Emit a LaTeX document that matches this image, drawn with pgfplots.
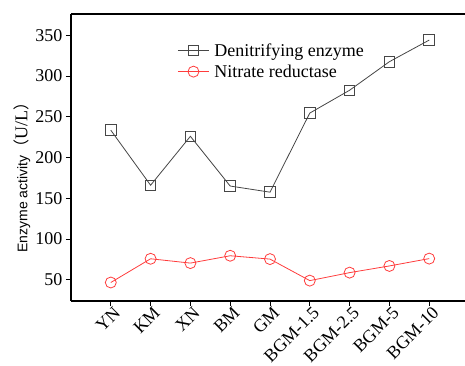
\documentclass[border=0pt]{standalone}
\usepackage{fontspec}
\setmainfont{Liberation Serif}
\setsansfont{Liberation Sans}
\newfontfamily\cjk{Noto Sans CJK SC}
\usepackage{pgfplots}
\pgfplotsset{compat=1.18}
\definecolor{dgray}{RGB}{70,70,70}
\definecolor{lred}{RGB}{255,60,60}
\begin{document}
\begin{tikzpicture}
\begin{axis}[
  name=ax,
  scale only axis,
  width=394pt, height=287pt,
  xmin=-1, xmax=8.9,
  ymin=24, ymax=376,
  axis y line*=left,
  axis x line*=box,
  axis line style={line width=1.2pt},
  xtick={0,...,8},
  xticklabels={YN,KM,XN,BM,GM,BGM-1.5,BGM-2.5,BGM-5,BGM-10},
  xtick pos=bottom,
  ytick={50,100,...,350},
  tick align=outside,
  major tick length=5pt,
  tick style={line width=0.8pt,black},
  /pgf/number format/assume math mode=true,
  ticklabel style={font=\fontsize{18}{20}\selectfont},
  xticklabel style={rotate=45, anchor=north east, inner sep=1pt, xshift=3pt},
  every axis y label/.style={at={(axis description cs:0,0.444)}, xshift=-49pt, rotate=90, anchor=center},
  ylabel={{\sffamily\fontsize{14}{16}\selectfont Enzyme activity}{\fontsize{16}{18}\selectfont\cjk （}{\fontsize{18}{20}\selectfont U/L}{\fontsize{16}{18}\selectfont\cjk ）}},
  legend style={at={(0.27,0.905)}, anchor=north west, draw=none, fill=none,
    font=\fontsize{18}{20}\selectfont, row sep=3pt, inner sep=0pt,
    nodes={inner xsep=5pt}},
  legend cell align=left,
  legend image code/.code={\draw[mark repeat=2,mark phase=2] plot coordinates {(0pt,0pt) (15.5pt,0pt) (31pt,0pt)};},
]
\addplot[dgray, line width=0.8pt, mark=square, mark size=5.3pt, mark options={fill=white, line width=0.8pt}]
  coordinates {(0,233.5) (1,166) (2,226) (3,165) (4,157.5) (5,254.5) (6,282.5) (7,317.5) (8,344)};
\addlegendentry{Denitrifying enzyme}
\addplot[lred, line width=0.8pt, mark=o, mark size=5.5pt, mark options={fill=white, line width=0.8pt}]
  coordinates {(0,46.7) (1,75.8) (2,70.5) (3,79.5) (4,75.4) (5,49) (6,58.8) (7,67) (8,76)};
\addlegendentry{Nitrate reductase}
\end{axis}
\pgfresetboundingbox
\useasboundingbox ([xshift=-71pt,yshift=-64pt]ax.south west) rectangle ([yshift=14pt]ax.north east);
\end{tikzpicture}
\end{document}
